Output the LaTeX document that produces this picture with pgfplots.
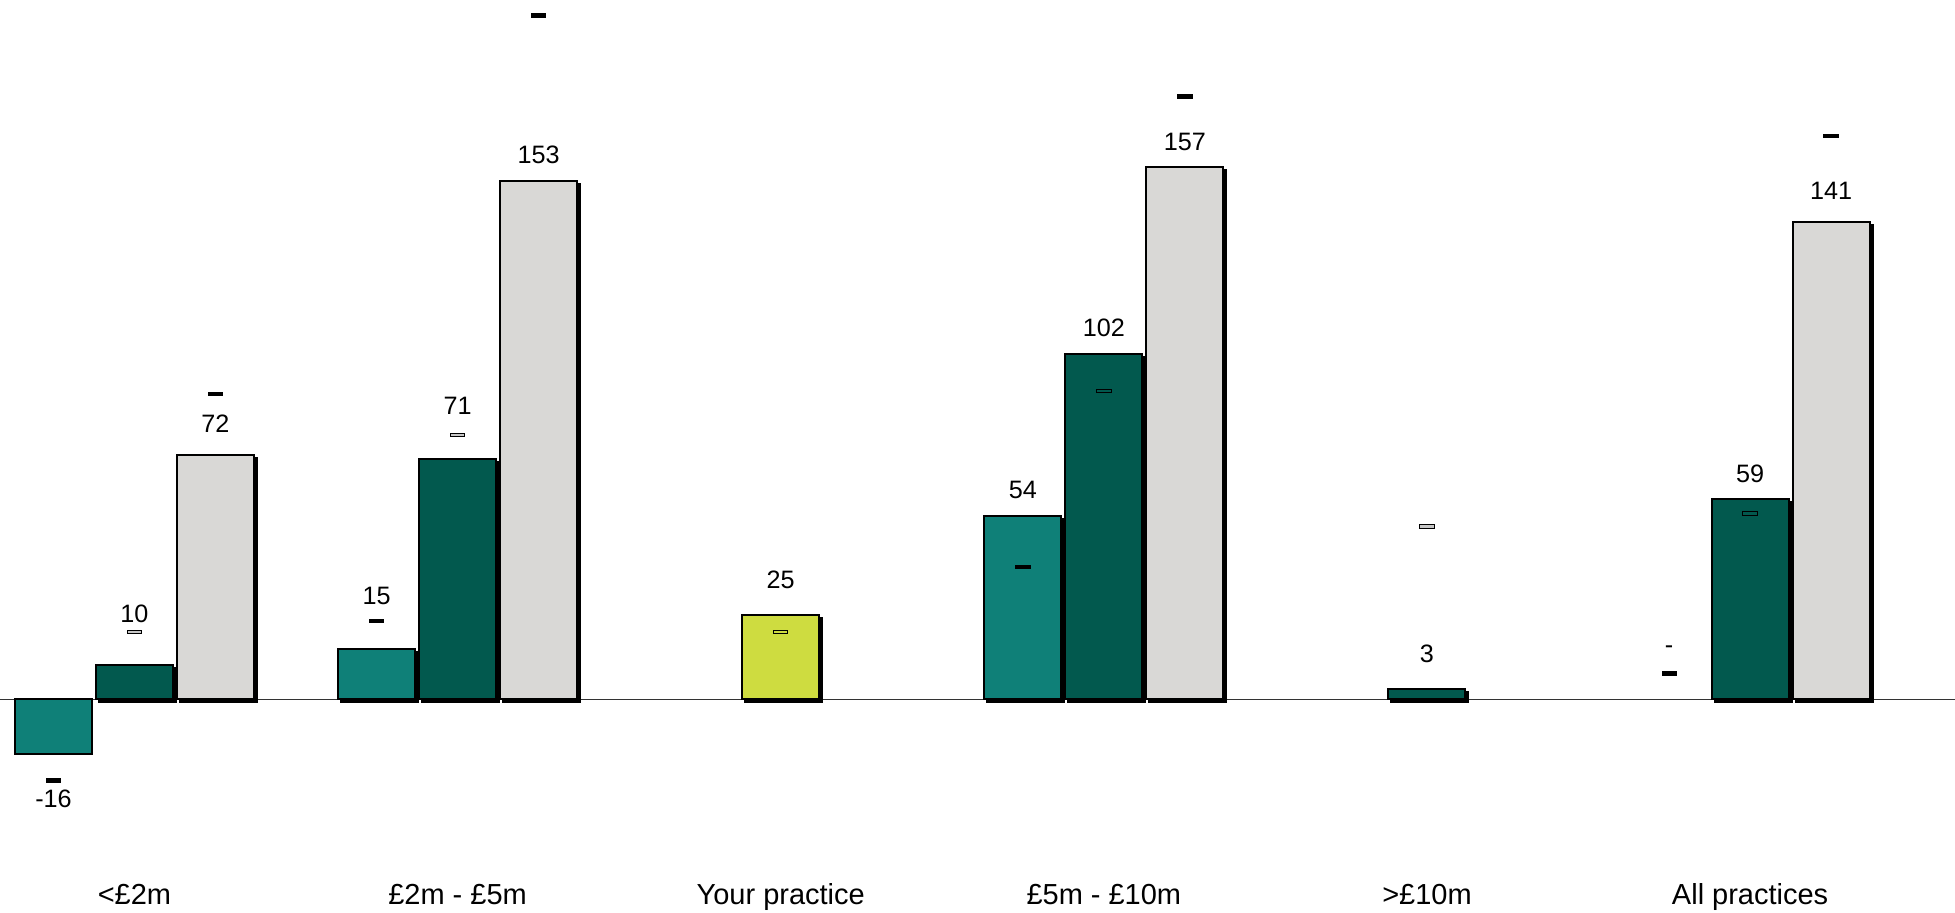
\documentclass[border=0pt]{standalone}
\usepackage{fontspec}
\setmainfont{Liberation Sans}
\usepackage{pgfplots}
\pgfplotsset{compat=1.18}
\definecolor{tealbar}{HTML}{0F8078}
\definecolor{darkbar}{HTML}{02594E}
\definecolor{greybar}{HTML}{D9D8D6}
\definecolor{yourbar}{HTML}{CEDC40}
% small dash markers
\pgfdeclareplotmark{dashfill}{%
  \pgfpathrectangle{\pgfqpoint{-3.6pt}{-0.85pt}}{\pgfqpoint{7.2pt}{1.7pt}}%
  \pgfusepathqfillstroke}
\pgfdeclareplotmark{dashopen}{%
  \pgfpathrectangle{\pgfqpoint{-3.6pt}{-0.85pt}}{\pgfqpoint{7.2pt}{1.7pt}}%
  \pgfusepathqstroke}

\begin{document}
\begin{tikzpicture}
\begin{axis}[
  scale only axis,
  width=977.5pt, height=456.5pt,
  xmin=-0.4145, xmax=5.6326,
  ymin=-62.98, ymax=206.34,
  axis line style={draw=none},
  ytick=\empty,
  xtick={0,...,5},
  xticklabels={<£2m, £2m - £5m, Your practice, £5m - £10m, >£10m, All practices},
  major tick length=0pt,
  xticklabel style={anchor=base, inner sep=0pt, yshift=4.3pt,
    font=\fontsize{14.5}{16}\selectfont},
  extra y ticks={0},
  extra y tick labels={},
  extra y tick style={grid=major, yticklabel style={overlay}},
  grid style={black!80, line width=0.5pt},
  bar width=38.5pt,
  clip=false,
]
% drop shadows
\addplot[ybar, bar shift=-39pt, fill=black, draw=black, line width=1pt, yshift=-1.5pt]
  coordinates {(1,15) (3,54)};
\addplot[ybar, bar shift=1.5pt, fill=black, draw=black, line width=1pt, yshift=-1.5pt]
  coordinates {(0,10) (1,71) (2,25) (3,102) (4,3) (5,59)};
\addplot[ybar, bar shift=42pt, fill=black, draw=black, line width=1pt, yshift=-1.5pt]
  coordinates {(0,72) (1,153) (3,157) (5,141)};

% bars
\addplot[ybar, bar shift=-40.5pt, fill=tealbar, draw=black, line width=1pt]
  coordinates {(0,-16) (1,15) (3,54)};
\addplot[ybar, bar shift=0pt, fill=darkbar, draw=black, line width=1pt]
  coordinates {(0,10) (1,71) (3,102) (4,3) (5,59)};
\addplot[ybar, bar shift=0pt, fill=yourbar, draw=black, line width=1pt]
  coordinates {(2,25)};
\addplot[ybar, bar shift=40.5pt, fill=greybar, draw=black, line width=1pt]
  coordinates {(0,72) (1,153) (3,157) (5,141)};

% comparison markers
\addplot[only marks, mark=dashfill, mark options={fill=black, draw=black, line width=0.4pt}]
  coordinates {(-0.2505,-23.9) (0.2505,90.1) (0.7495,23.2) (1.2505,201.8)
               (2.7495,39.0) (3.2505,177.9) (4.7495,7.7) (5.2505,166.2)};
\addplot[only marks, mark=dashfill, mark options={fill=black!22, draw=black, line width=0.5pt}]
  coordinates {(0,19.9) (1,78.0) (4,51.0)};
\addplot[only marks, mark=dashopen, mark options={draw=black, line width=0.5pt}]
  coordinates {(2,19.9) (3,91.0) (5,54.9)};

% value labels
\addplot[draw=none, mark=none, nodes near coords, point meta=explicit symbolic,
  every node near coord/.append style={anchor=base, inner sep=0pt, text=black,
    font=\fontsize{12.6}{14}\selectfont}]
  coordinates {
    (-0.2505,-31.8) [-16] (0,22.7) [10] (0.2505,78.7) [72]
    (0.7495,27.9) [15] (1,84.0) [71] (1.2505,158.1) [153]
    (2,32.7) [25]
    (2.7495,59.2) [54] (3,107.0) [102] (3.2505,162.1) [157]
    (4,11.0) [3]
    (4.7495,13.4) [-] (5,63.9) [59] (5.2505,147.4) [141]
  };
\end{axis}
\end{tikzpicture}
\end{document}
